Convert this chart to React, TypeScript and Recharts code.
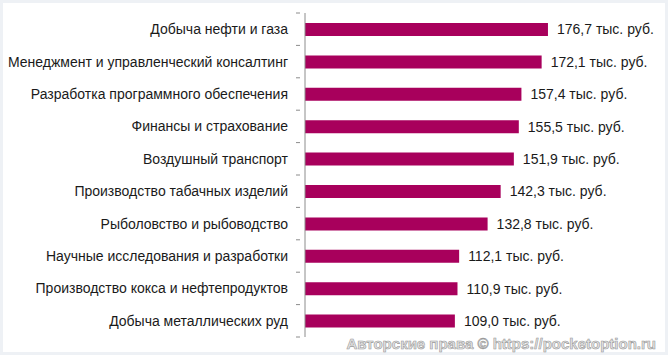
import { BarChart, Bar, XAxis, YAxis, LabelList } from "recharts";

const categories = [
  "Добыча нефти и газа",
  "Менеджмент и управленческий консалтинг",
  "Разработка программного обеспечения",
  "Финансы и страхование",
  "Воздушный транспорт",
  "Производство табачных изделий",
  "Рыболовство и рыбоводство",
  "Научные исследования и разработки",
  "Производство кокса и нефтепродуктов",
  "Добыча металлических руд",
];

const salaries = [176.7, 172.1, 157.4, 155.5, 151.9, 142.3, 132.8, 112.1, 110.9, 109.0];

const unit = "тыс. руб.";

const data = categories.map((name, i) => ({ name, value: salaries[i] }));

const W = 668;
const H = 355;
const TOP = 13;
const BOTTOM = 18;
const BAND = (H - TOP - BOTTOM) / categories.length;
const FONT = "'Liberation Sans', Arial, sans-serif";

function CategoryTick(props: any) {
  const { x, y, payload, index } = props;
  const axisX = x + 3;
  return (
    <g>
      <line x1={axisX - 4} x2={axisX} y1={y - BAND / 2} y2={y - BAND / 2} stroke="#8c8c8c" />
      {index === categories.length - 1 && (
        <line x1={axisX - 4} x2={axisX} y1={y + BAND / 2} y2={y + BAND / 2} stroke="#8c8c8c" />
      )}
      <text
        x={axisX - 12}
        y={y}
        dy={5}
        textAnchor="end"
        fill="#1a1a1a"
        fontSize={14}
        fontFamily={FONT}
      >
        {payload.value}
      </text>
    </g>
  );
}

export default function App() {
  return (
    <div
      style={{
        position: "absolute",
        left: 0,
        top: 0,
        width: W,
        height: H,
        background: "#eef1f5",
      }}
    >
      <div
        style={{
          position: "absolute",
          left: 3,
          top: 3,
          width: W - 6,
          height: H - 6,
          background: "#fff",
        }}
      />
      <div style={{ position: "absolute", left: 0, top: 0 }}>
        <BarChart
          width={W}
          height={H}
          data={data}
          layout="vertical"
          margin={{ top: TOP, right: 88, bottom: BOTTOM, left: 0 }}
          barCategoryGap={0}
        >
          <XAxis type="number" domain={[0, 200]} hide />
          <YAxis
            type="category"
            dataKey="name"
            width={305}
            axisLine={{ stroke: "#8c8c8c" }}
            tickLine={false}
            tick={<CategoryTick />}
            interval={0}
          />
          <Bar dataKey="value" fill="#a8005c" barSize={13} isAnimationActive={false}>
            <LabelList
              dataKey="value"
              position="right"
              offset={9}
              fill="#1a1a1a"
              fontSize={14}
              fontFamily={FONT}
              formatter={(v: any) => `${Number(v).toFixed(1).replace(".", ",")} ${unit}`}
            />
          </Bar>
        </BarChart>
      </div>
      <div
        style={{
          position: "absolute",
          right: 12,
          top: 335,
          fontFamily: FONT,
          fontWeight: "bold",
          fontSize: 15,
          color: "#e4e4e4",
          WebkitTextStroke: "0.6px #9a9a9a",
          whiteSpace: "nowrap",
        }}
      >
        Авторские права © https://pocketoption.ru
      </div>
    </div>
  );
}
